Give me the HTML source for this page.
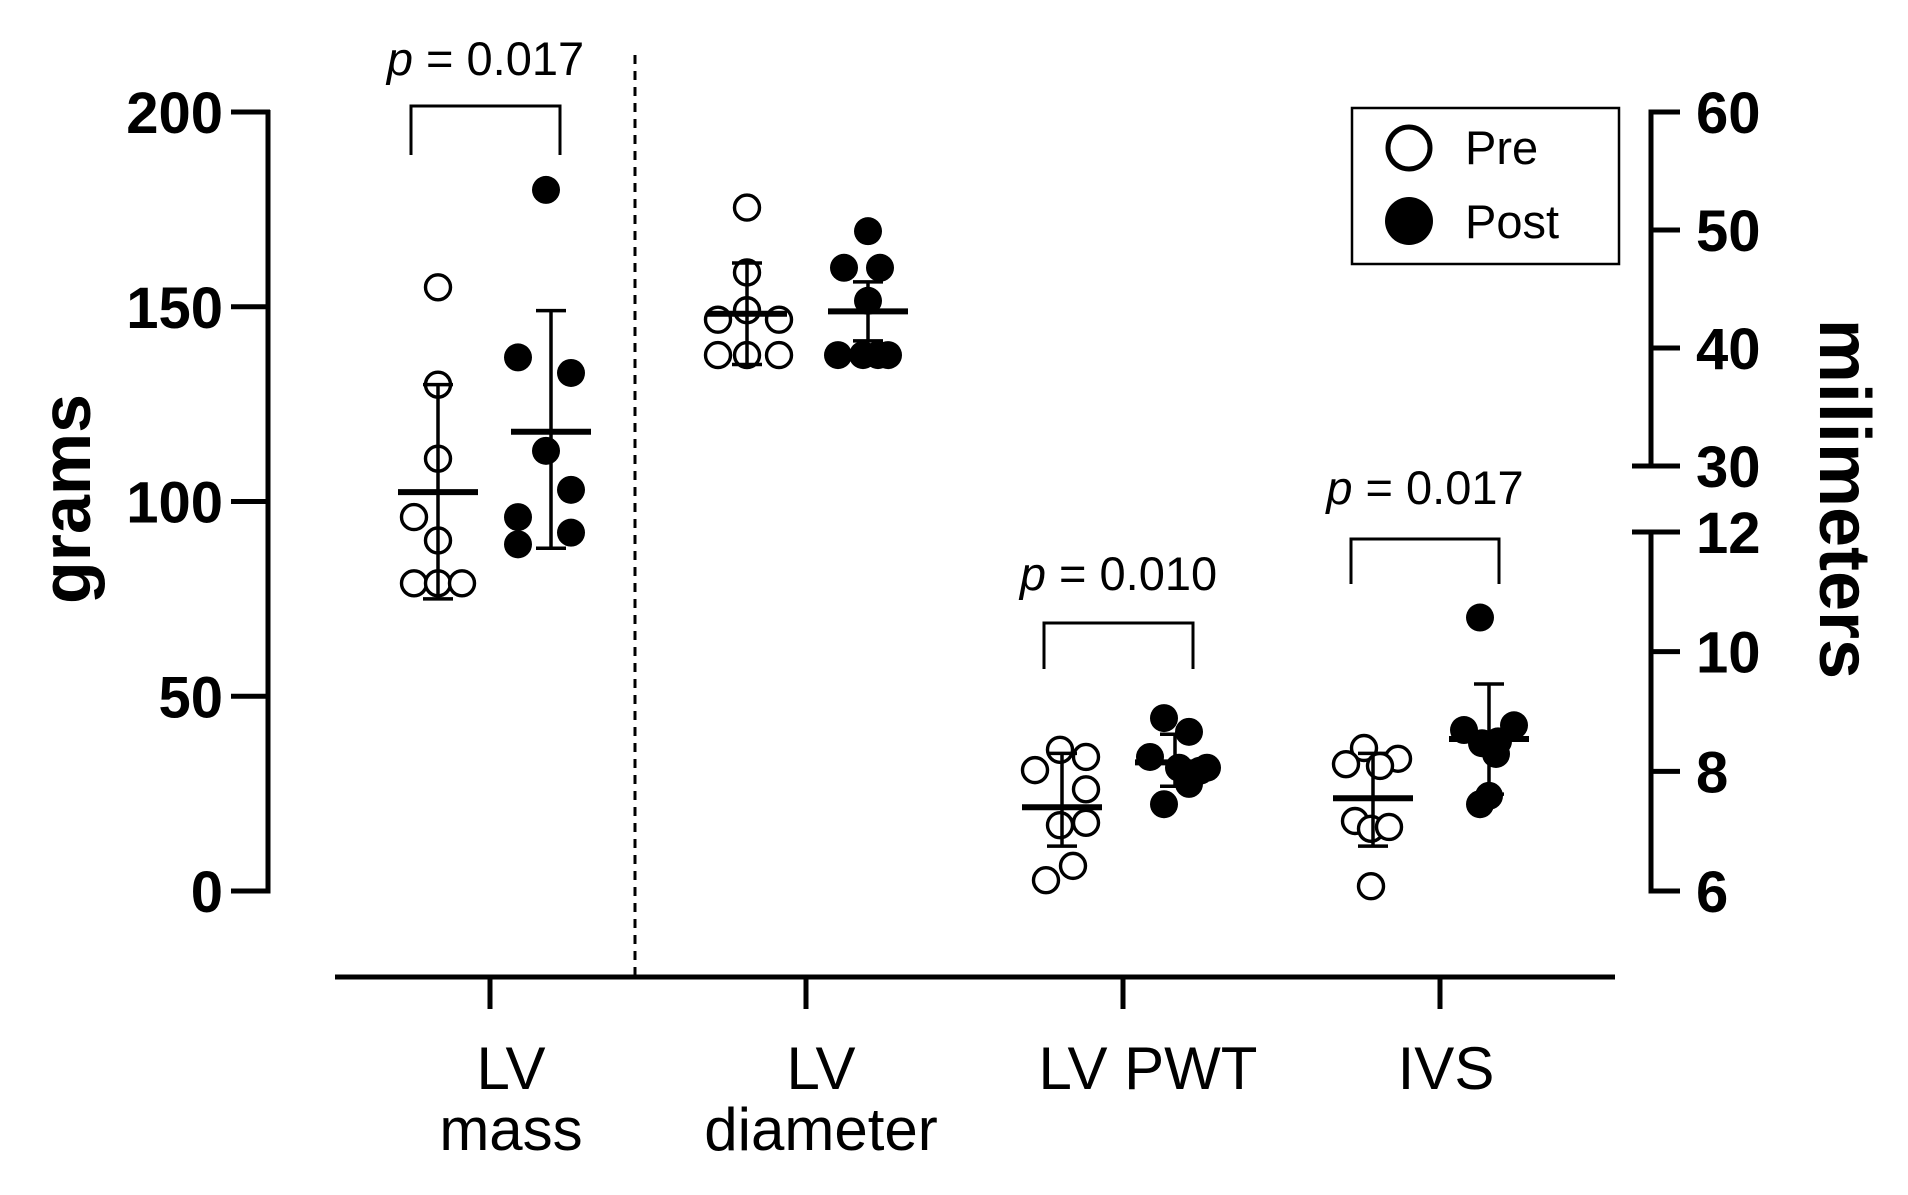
<!DOCTYPE html>
<html><head><meta charset="utf-8"><style>
html,body{margin:0;padding:0;background:#fff;}
svg{display:block;font-family:"Liberation Sans",Arial,sans-serif;}
</style></head><body>
<svg id="chart" width="1908" height="1195" viewBox="0 0 1908 1195">
<g id="axes"></g><g id="marks"></g>
</svg>
<script>
// ---- data ----
const categories = ["LV mass","LV diameter","LV PWT","IVS"];
const gramTicks = [0,50,100,150,200];
const mmUpperTicks = [30,40,50,60];
const mmLowerTicks = [6,8,10,12];
const lvMassPre  = [155,130,111,96,90,79,79,79];
const lvMassPost = [180,137,133,113,103,96,92,89];
const lvDiamPre  = [51.9,46.4,42.4,42.4,39.4,39.4,39.4,43.2];
const lvDiamPost = [49.9,46.8,46.8,44,39.4,39.4,39.4,39.4];
const pwtPre  = [8.02,8.36,8.24,7.70,7.10,7.14,6.42,6.18];
const pwtPost = [8.89,8.66,8.24,8.01,7.79,7.45,8.06,8.06];
const ivsPre  = [8.39,8.12,8.21,8.09,7.17,7.04,7.07,6.08];
const ivsPost = [10.57,8.77,8.69,8.47,8.29,7.59,7.45,8.5];
const means = [102.4,117.9,42.9,43.1,7.40,8.15,7.55,8.54];
const sdLow = [75,88,38.6,40.6,6.75,7.75,6.75,7.62];
const sdHigh = [130,149,47.2,45.6,8.3,8.62,8.3,9.46];
const pLabels = ["0.017","0.010","0.017"];
// jitter offsets (px) for point spread
const jitter = [
 [0,0,0,-24,0,-24,0,24],[-5,-33,20,-5,20,-33,20,-33],
 [0,0,-29,32,-29,0,32,0],[0,-24,12,0,-30,-5,20,10],
 [-27,-2,24,24,-2,24,11,-16],[-11,14,-25,25,14,-11,32,4],
 [-9,-27,25,7,-18,-2,16,-2],[-9,25,-25,-7,7,0,-9,9]
];
// ---- scales ----
const NS="http://www.w3.org/2000/svg";
const yG = v => 891 - v/200*779;
const yU = v => 112 + (60-v)/30*354;
const yL = v => 891 - (v-6)/6*359;
const catX = [490,806,1123,1440];
const axes=document.getElementById('axes'), marks=document.getElementById('marks');
function mk(tag,attrs,parent,text){const e=document.createElementNS(NS,tag);for(const k in attrs)e.setAttribute(k,attrs[k]);if(text!==undefined)e.textContent=text;parent.appendChild(e);return e;}
function line(x1,y1,x2,y2,w,p,extra){return mk('line',Object.assign({x1,y1,x2,y2,stroke:'#000','stroke-width':w},extra||{}),p);}

// left axis
let a=line(268,yG(200)-2,268,yG(0)+2.5,5,axes);


gramTicks.forEach(t=>{
  line(231,yG(t),270,yG(t),5,axes);
  const tx=mk('text',{x:223,y:yG(t)+21,'text-anchor':'end','font-size':58,'font-weight':'bold'},axes,String(t));
  
  
});
let gt=mk('text',{x:0,y:0,transform:'translate(90,499) rotate(-90)','text-anchor':'middle','font-size':70,'font-weight':'bold'},axes,'grams');



// right axis upper
let ru=line(1651,yU(60)-2.5,1651,yU(30)+2.5,5,axes);


mmUpperTicks.forEach(t=>{
  line(t===30?1632:1649,yU(t),1680,yU(t),5,axes);
  const tx=mk('text',{x:1696,y:yU(t)+21,'font-size':58,'font-weight':'bold'},axes,String(t));
  
  
});
let rl=line(1651,yL(12)-2.5,1651,yL(6)+2.5,5,axes);


mmLowerTicks.forEach(t=>{
  line(t===12?1632:1649,yL(t),1680,yL(t),5,axes);
  const tx=mk('text',{x:1696,y:yL(t)+21,'font-size':58,'font-weight':'bold'},axes,String(t));
  
  
});
let mt=mk('text',{x:0,y:0,transform:'translate(1820,499) rotate(90)','text-anchor':'middle','font-size':72,'font-weight':'bold'},axes,'milimeters');



// x axis
let xa=line(335,977,1615,977,5,axes);


const catLines=[["LV","mass"],["LV","diameter"],["LV PWT"],["IVS"]];
const catTextX=[511,821,1148,1446];
categories.forEach((c,i)=>{
  line(catX[i],975,catX[i],1009,5,axes);
  const t=mk('text',{x:catTextX[i],y:1089,'text-anchor':'middle','font-size':60},axes);
  
  
  catLines[i].forEach((s,j)=>mk('tspan',{x:catTextX[i],dy:j?61:0},t,s));
});
let dl=line(635,55,635,977,3,axes,{'stroke-dasharray':'9 7'});



// groups
const groupVals=[lvMassPre,lvMassPost,lvDiamPre,lvDiamPost,pwtPre,pwtPost,ivsPre,ivsPost];
const groupScale=[yG,yG,yU,yU,yL,yL,yL,yL];
const groupX=[438,551,747,868,1062,1175,1373,1489];
groupVals.forEach((vals,g)=>{
  const y=groupScale[g], cx=groupX[g], post=g%2===1;
  const G=mk('g',{},marks);
  
  
  vals.forEach((v,i)=>{
    const c=mk('circle',{cx:cx+jitter[g][i],cy:y(v),r:post?14:12.5,fill:post?'#000':'#fff',stroke:'#000','stroke-width':post?0:3.4},G);
    
    
  });
  line(cx,y(sdHigh[g]),cx,y(sdLow[g]),3.5,G);
  line(cx-15,y(sdHigh[g]),cx+15,y(sdHigh[g]),3.5,G);
  line(cx-15,y(sdLow[g]),cx+15,y(sdLow[g]),3.5,G);
  const m=line(cx-40,y(means[g]),cx+40,y(means[g]),6,G);
  
  
});

// significance brackets
const br=[[411,560,106,155,75],[1044,1193,623,669,590],[1351,1499,539,584,504]];
br.forEach((b,i)=>{
  const G=mk('g',{},marks);
  
  
  mk('path',{d:`M${b[0]} ${b[3]}V${b[2]}H${b[1]}V${b[3]}`,fill:'none',stroke:'#000','stroke-width':3},G);
  const t=mk('text',{x:(b[0]+b[1])/2,y:b[4],'text-anchor':'middle','font-size':47},G);
  mk('tspan',{'font-style':'italic'},t,'p');
  mk('tspan',{},t,' = '+pLabels[i]);
});

// legend
const L=mk('g',{},marks);


mk('rect',{x:1352,y:108,width:267,height:156,fill:'#fff',stroke:'#000','stroke-width':2.5},L);
const lp=mk('g',{},L);


mk('circle',{cx:1409,cy:148,r:21,fill:'#fff',stroke:'#000','stroke-width':5},lp);
mk('text',{x:1465,y:164,'font-size':47},lp,'Pre');
const lq=mk('g',{},L);


mk('circle',{cx:1409,cy:221,r:24,fill:'#000'},lq);
mk('text',{x:1465,y:238,'font-size':47},lq,'Post');
</script>
</body></html>
